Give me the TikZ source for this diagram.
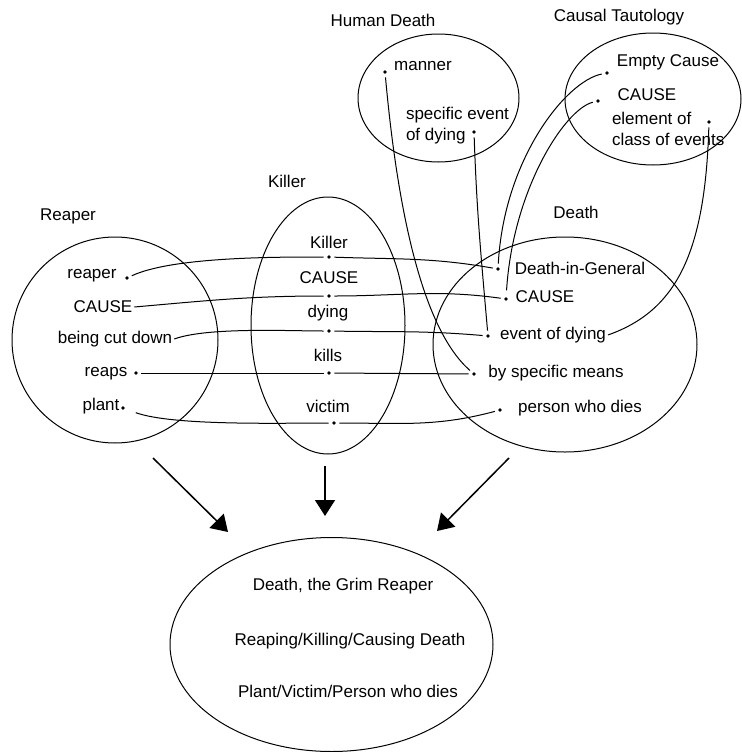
\documentclass[tikz,border=0pt]{standalone}
\usepackage{fontspec}
\setmainfont{Liberation Sans}
\usetikzlibrary{positioning,arrows.meta,shapes.geometric}

\begin{document}
\begin{tikzpicture}[
    x=0.6pt, y=0.6pt,
    txt/.style={inner sep=1pt, font=\fontsize{10.2}{12.4}\selectfont},
    set/.style={draw, ellipse, inner sep=0pt, line width=0.6pt},
    pt/.style={circle, inner sep=0pt, minimum size=6pt,
        path picture={\fill (path picture bounding box.center) circle (1.1pt);}},
    link/.style={line width=0.6pt},
    arrow/.style={-{Triangle[length=9.6pt, width=12pt]}, line width=0.9pt}
]
\useasboundingbox (0,0) rectangle (742,-752);

% Sets
\node[set, minimum width=123.6pt, minimum height=123.6pt] (reaper) at (115,-340) {};
\node[set, minimum width=92.4pt, minimum height=154.2pt] (killer) at (328,-325.5) {};
\node[set, minimum width=158.4pt, minimum height=129pt] (death) at (565,-344.5) {};
\node[set, minimum width=96.6pt, minimum height=76.8pt] (human) at (438.5,-98) {};
\node[set, minimum width=105.6pt, minimum height=79.2pt] (causal) at (653,-99) {};
\node[set, minimum width=193.8pt, minimum height=128.4pt] (grim) at (331.5,-644.5) {};

% Headings
\node[txt] (hReaper) at (68,-216) {Reaper};
\node[txt] (hKiller) at (287,-181) {Killer};
\node[txt] (hDeath) at (576,-212) {Death};
\node[txt] (hHuman) at (383,-20) {Human Death};
\node[txt] (hCausal) at (619,-17) {Causal Tautology};

% Reaper
\node[txt] (rt1) at (92,-276) {reaper};
\node[txt] (rt2) at (103,-307) {CAUSE};
\node[txt] (rt3) at (115,-339) {being cut down};
\node[txt] (rt4) at (106,-374) {reaps};
\node[txt] (rt5) at (101,-406) {plant};
\node[pt] (r1) at (127,-278) {};
\node[pt] (r4) at (136,-373) {};
\node[pt] (r5) at (123,-408) {};

% Killer
\node[txt] (kt1) at (329,-242) {Killer};
\node[txt] (kt2) at (329,-278) {CAUSE};
\node[txt] (kt3) at (328,-313) {dying};
\node[txt] (kt4) at (328,-355) {kills};
\node[txt] (kt5) at (328,-406) {victim};
\node[pt] (k1) at (329,-257) {};
\node[pt] (k2) at (329,-296) {};
\node[pt] (k3) at (329,-331) {};
\node[pt] (k4) at (329,-373) {};
\node[pt] (k5) at (334,-423) {};

% Death
\node[txt] (dt1) at (580,-268) {Death-in-General};
\node[txt] (dt2) at (545,-297) {CAUSE};
\node[txt] (dt3) at (553,-335) {event of dying};
\node[txt] (dt4) at (556,-373) {by specific means};
\node[txt] (dt5) at (580,-408) {person who dies};
\node[pt] (d1) at (498,-269) {};
\node[pt] (d2) at (506,-299) {};
\node[pt] (d3) at (488,-336) {};
\node[pt] (d4) at (474,-374) {};
\node[pt] (d5) at (500,-410) {};

% Human Death
\node[txt] (ht1) at (423,-66) {manner};
\node[txt, anchor=west, align=left] (ht2) at (404,-125.5) {specific event\\of dying};
\node[pt] (h1) at (385,-72) {};
\node[pt] (h2) at (474,-132) {};

% Causal Tautology
\node[txt] (ct1) at (668,-62) {Empty Cause};
\node[txt] (ct2) at (647,-95) {CAUSE};
\node[txt, anchor=west, align=left] (ct3) at (610,-129) {element of\\class of events};
\node[pt] (c1) at (607,-73) {};
\node[pt] (c2) at (598,-101) {};
\node[pt] (c3) at (709,-122) {};

% Blend
\node[txt] (g1) at (343,-586) {Death, the Grim Reaper};
\node[txt] (g2) at (350,-641) {Reaping/Killing/Causing Death};
\node[txt] (g3) at (348,-691) {Plant/Victim/Person who dies};

% Mappings
\draw[link] (r1) to[out=25, in=180, looseness=0.6] (k1);
\draw[link] (k1) to[out=-2, in=170] (d1);
\draw[link] (rt2.east) to[out=5, in=180] (k2);
\draw[link] (k2) to[out=0, in=172] (d2);
\draw[link] (rt3.east) to[out=20, in=180, looseness=0.6] (k3);
\draw[link] (k3) to[out=-1, in=175] (d3);
\draw[link] (r4) -- (k4);
\draw[link] (k4) -- (d4);
\draw[link, shorten <=5pt] (r5) to[out=-20, in=180, looseness=0.6] (k5);
\draw[link] (k5) to[out=0, in=195] (d5);
\draw[link] (h1) .. controls +(14,-154) and +(-48,42) .. (d4);
\draw[link] (h2) to[out=-88, in=95] (d3);
\draw[link] (c1) .. controls +(-41,-8) and +(6,110) .. (d1);
\draw[link, shorten >=2pt] (c2) .. controls +(-33,-8) and +(7,110) .. (d2);
\draw[link] (c3) .. controls +(-4,-132) and +(68,24) .. (dt3.east);

% Projection to blend
\coordinate (fromR) at (153,-458);
\coordinate (toR) at (228,-532);
\coordinate (fromK) at (325,-466);
\coordinate (toK) at (325,-516);
\coordinate (fromD) at (509,-458);
\coordinate (toD) at (437,-531);
\draw[arrow] (fromR) -- (toR);
\draw[arrow] (fromK) -- (toK);
\draw[arrow] (fromD) -- (toD);
\end{tikzpicture}
\end{document}
